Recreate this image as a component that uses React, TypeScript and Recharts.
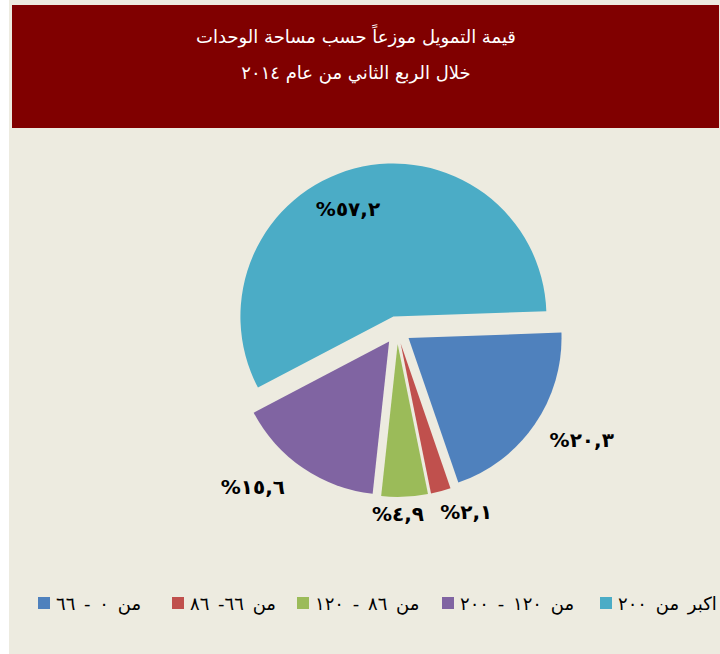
import { PieChart, Pie, Cell, Legend } from "recharts";

const categories = ["من ٠ -   ٦٦", "من ٦٦- ٨٦", "من ٨٦ - ١٢٠", "من ١٢٠ - ٢٠٠", "اكبر من ٢٠٠"];
const shares = [20.3, 2.1, 4.9, 15.6, 57.2];
const shareLabels = ["٢٠,٣%", "٢,١%", "٤,٩%", "١٥,٦%", "٥٧,٢%"];
const colors = ["#4F81BD", "#C0504D", "#9BBB59", "#8064A2", "#4BACC6"];
const titleLines = ["قيمة التمويل موزعاً حسب مساحة الوحدات", "خلال الربع الثاني من عام ٢٠١٤"];

// label placement per slice (distance from slice tip, angle nudge in degrees)
const labelRadius = [201, 181, 170, 199, 117];
const labelNudge = [4, 6, -2.5, -9, 8];
// legend item left edges
const legendLeft = [29, 163, 288, 433, 591];

const data = categories.map((name, i) => ({ name, value: shares[i] }));

const W = 711;
const H = 654;
const CX = 388;
const CY = 330;
const R = 153;
const EXPLODE = 14;
const START = 2;
const RAD = Math.PI / 180;

const total = shares.reduce((a, b) => a + b, 0);
const mids = shares.map((v, i) => {
  const before = shares.slice(0, i).reduce((a, b) => a + b, 0);
  return START - ((before + v / 2) / total) * 360;
});

const renderLabel = (idx: number) => (props: any) => {
  if (props.index !== idx) return null;
  const a = (mids[idx] + labelNudge[idx]) * RAD;
  const x = props.cx + labelRadius[idx] * Math.cos(a);
  const y = props.cy - labelRadius[idx] * Math.sin(a);
  return (
    <text
      x={x}
      y={y}
      textAnchor="middle"
      dominantBaseline="central"
      direction="rtl"
      fontFamily="DejaVu Sans"
      fontWeight="bold"
      fontSize={20}
      fill="#000"
    >
      {shareLabels[idx]}
    </text>
  );
};

const renderLegend = () => (
  <div
    style={{
      position: "relative",
      width: 720,
      height: 20,
      whiteSpace: "nowrap",
      fontFamily: "DejaVu Sans",
      fontSize: 18,
      color: "#000",
    }}
  >
    {categories.map((c, i) => (
      <div
        key={c}
        style={{ position: "absolute", left: legendLeft[i], top: 0, display: "flex", alignItems: "center", height: 20 }}
      >
        <span style={{ width: 12, height: 12, background: colors[i], display: "inline-block", marginRight: 6 }} />
        <span style={{ direction: "rtl", unicodeBidi: "isolate", wordSpacing: 3 }}>{c}</span>
      </div>
    ))}
  </div>
);

export default function App() {
  return (
    <div
      style={{
        position: "absolute",
        left: 9,
        top: 0,
        width: W,
        height: H,
        background: "#EDEBE0",
        overflow: "hidden",
      }}
    >
      <div
        style={{
          position: "absolute",
          left: 3,
          top: 5,
          width: 707,
          height: 123,
          background: "#800000",
          color: "#fff",
          fontFamily: "DejaVu Sans",
          fontSize: 18,
          textAlign: "center",
          direction: "rtl",
          boxSizing: "border-box",
          paddingTop: 14,
          paddingRight: 19,
          lineHeight: "36px",
        }}
      >
        {titleLines.map((t) => (
          <div key={t}>{t}</div>
        ))}
      </div>
      <div style={{ position: "absolute", left: 0, top: 0 }}>
        <PieChart width={W} height={H} margin={{ top: 0, right: 0, bottom: 0, left: 0 }}>
          {shares.map((_, idx) => (
            <Pie
              key={idx}
              data={data}
              dataKey="value"
              nameKey="name"
              cx={CX + EXPLODE * Math.cos(mids[idx] * RAD)}
              cy={CY - EXPLODE * Math.sin(mids[idx] * RAD)}
              outerRadius={R}
              startAngle={START}
              endAngle={START - 360}
              stroke="none"
              label={renderLabel(idx)}
              labelLine={false}
              isAnimationActive={false}
            >
              {data.map((d, i) => (
                <Cell key={d.name} fill={i === idx ? colors[i] : "none"} />
              ))}
            </Pie>
          ))}
          <Legend content={renderLegend} wrapperStyle={{ left: 0, top: 593, width: 720 }} />
        </PieChart>
      </div>
    </div>
  );
}
